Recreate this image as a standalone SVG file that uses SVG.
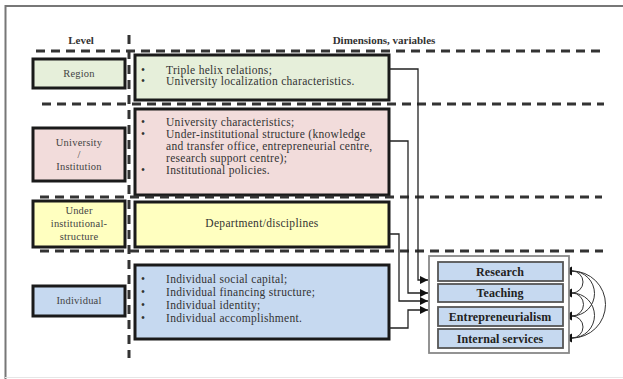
<svg xmlns="http://www.w3.org/2000/svg" width="623" height="379" viewBox="0 0 623 379">
<defs>
<style>
text{font-family:"Liberation Serif","Times New Roman",serif;fill:#333}
.hd{font-size:11px;font-weight:bold;text-anchor:middle}
.lv{font-size:10.5px;letter-spacing:0.2px;text-anchor:middle;fill:#444}
.bl{font-size:11.5px;letter-spacing:0.3px}
.out{font-size:12px;letter-spacing:0.1px;font-weight:bold;text-anchor:middle;fill:#222}
.box{stroke:#1a1a1a;stroke-width:3}
.dash{stroke:#333;stroke-width:3;stroke-dasharray:9 6;fill:none}
.conn{stroke:#222;stroke-width:1.3;fill:none}
.arc{stroke:#333;stroke-width:1;fill:none}
.ib{fill:#c6d9f0;stroke:#555;stroke-width:1.8}
</style>
<marker id="ah" viewBox="0 0 10 10" refX="10" refY="5" markerWidth="8" markerHeight="8" markerUnits="userSpaceOnUse" orient="auto">
<path d="M0,0 L10,5 L0,10 z" fill="#111"/>
</marker>
<path id="la" d="M0,0 L9,-4.5 L9,4.5 z" fill="#111"/>
</defs>
<rect width="623" height="379" fill="#fff"/>
<g id="frame">
<path d="M5.5,379 V6 H623" fill="none" stroke="#777" stroke-width="2"/>
<path d="M5,377.5 H623" stroke="#e6e6e6" stroke-width="1"/>
</g>
<g id="headers">
<text class="hd" x="81" y="44">Level</text>
<text class="hd" x="384" y="44">Dimensions, variables</text>
</g>
<g id="region">
<rect class="box" x="33" y="59" width="92" height="29" fill="#e6efda"/>
<text class="lv" x="79" y="77">Region</text>
</g>
<g id="region-dims">
<rect class="box" x="135" y="55" width="254" height="45" fill="#e6efda"/>
<text class="bl" x="141" y="74">•</text><text class="bl" x="166" y="74">Triple helix relations;</text>
<text class="bl" x="141" y="85">•</text><text class="bl" x="166" y="85">University localization characteristics.</text>
</g>
<g id="university">
<rect class="box" x="33" y="128" width="92" height="53" fill="#f2dcdb"/>
<text class="lv" x="79" y="146">University</text>
<text class="lv" x="79" y="158">/</text>
<text class="lv" x="79" y="170">Institution</text>
</g>
<g id="university-dims">
<rect class="box" x="135" y="109" width="254" height="86" fill="#f2dcdb"/>
<text class="bl" x="141" y="126">•</text><text class="bl" x="166" y="126">University characteristics;</text>
<text class="bl" x="141" y="138">•</text><text class="bl" x="166" y="138">Under-institutional structure (knowledge</text>
<text class="bl" x="166" y="150">and transfer office, entrepreneurial centre,</text>
<text class="bl" x="166" y="162">research support centre);</text>
<text class="bl" x="141" y="174">•</text><text class="bl" x="166" y="174">Institutional policies.</text>
</g>
<g id="under">
<rect class="box" x="33" y="201" width="92" height="46" fill="#ffffc0"/>
<text class="lv" x="79" y="214">Under</text>
<text class="lv" x="79" y="227">institutional-</text>
<text class="lv" x="79" y="240">structure</text>
</g>
<g id="department">
<rect class="box" x="135" y="202" width="254" height="45" fill="#ffffc0"/>
<text class="bl" x="262" y="227" text-anchor="middle">Department/disciplines</text>
</g>
<g id="individual">
<rect class="box" x="33" y="286" width="92" height="30" fill="#c6d9f0"/>
<text class="lv" x="79" y="304">Individual</text>
</g>
<g id="individual-dims">
<rect class="box" x="135" y="265" width="254" height="74" fill="#c6d9f0"/>
<text class="bl" x="141" y="283">•</text><text class="bl" x="166" y="283">Individual social capital;</text>
<text class="bl" x="141" y="296">•</text><text class="bl" x="166" y="296">Individual financing structure;</text>
<text class="bl" x="141" y="309">•</text><text class="bl" x="166" y="309">Individual identity;</text>
<text class="bl" x="141" y="322">•</text><text class="bl" x="166" y="322">Individual accomplishment.</text>
</g>
<g id="separators">
<path class="dash" d="M129,35 V358"/>
<path class="dash" d="M36,51 H600"/>
<path class="dash" d="M42,104 H604"/>
<path class="dash" d="M40,197 H602"/>
<path class="dash" d="M40,251 H603"/>
</g>
<g id="connectors">
<path class="conn" d="M389,69 H418 V280 H428" marker-end="url(#ah)"/>
<path class="conn" d="M389,141 H408 V293 H428" marker-end="url(#ah)"/>
<path class="conn" d="M389,234 H399 V301 H428" marker-end="url(#ah)"/>
<path class="conn" d="M389,328 H408 V310 H428" marker-end="url(#ah)"/>
<path class="arc" d="M572,271 A11,11 0 0 1 572,293"/>
<path class="arc" d="M572,271 A22.5,22.5 0 0 1 572,316"/>
<path class="arc" d="M572,271 A33.5,33.5 0 0 1 572,338"/>
<path class="arc" d="M572,293 A11.5,11.5 0 0 1 572,316"/>
<path class="arc" d="M572,293 A22.5,22.5 0 0 1 572,338"/>
<path class="arc" d="M572,316 A11,11 0 0 1 572,338"/>
<use href="#la" x="563" y="271"/>
<use href="#la" x="563" y="293"/>
<use href="#la" x="563" y="316"/>
<use href="#la" x="563" y="338"/>
</g>
<g id="outputs">
<rect x="429" y="256" width="140" height="97" fill="#fff" stroke="#888" stroke-width="1.8"/>
<g id="research"><rect class="ib" x="438" y="262" width="125" height="19"/><text class="out" x="500" y="275.5">Research</text></g>
<g id="teaching"><rect class="ib" x="438" y="284" width="125" height="18"/><text class="out" x="500" y="297">Teaching</text></g>
<g id="entrepreneurialism"><rect class="ib" x="438" y="307" width="125" height="19"/><text class="out" x="500" y="320.5">Entrepreneurialism</text></g>
<g id="internal-services"><rect class="ib" x="438" y="329" width="125" height="19"/><text class="out" x="500" y="342.5">Internal services</text></g>
</g>
</svg>
